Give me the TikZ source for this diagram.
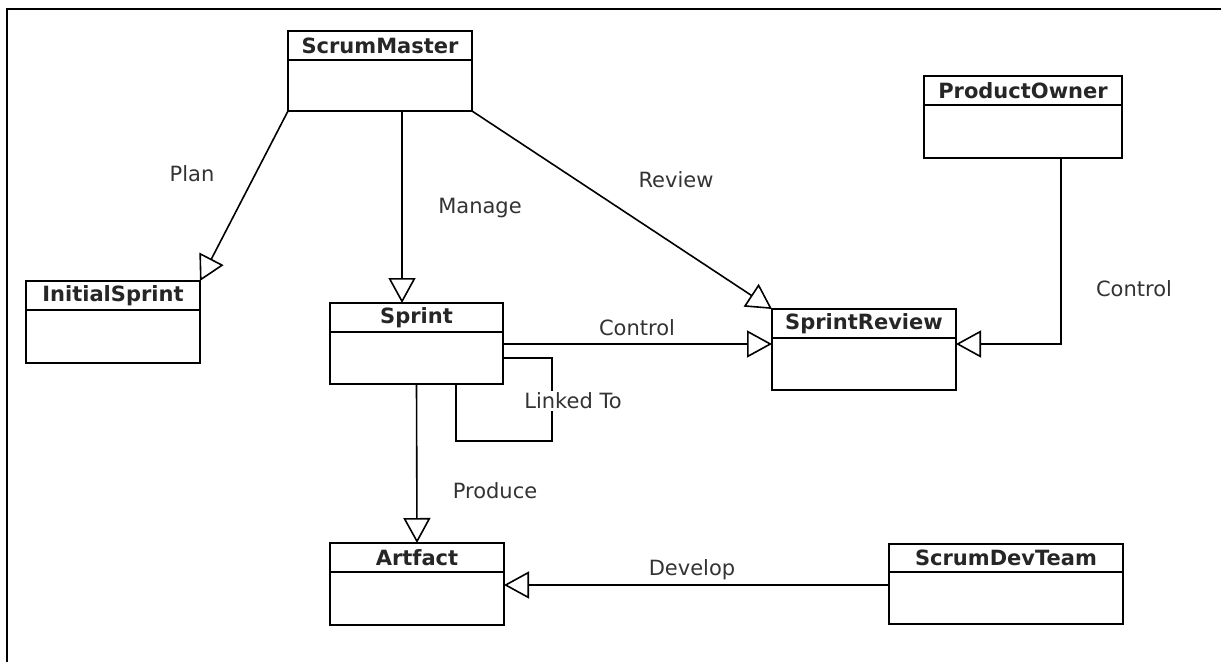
\documentclass[tikz,border=0pt]{standalone}
\usepackage{fontspec}
\setmainfont{DejaVu Sans}
\usetikzlibrary{positioning,arrows.meta}

\tikzset{
  classhead/.style={draw, line width=1.6pt, outer sep=0pt, inner sep=0pt,
    minimum height=29pt, font=\fontsize{21}{25}\selectfont\bfseries, text=black!85},
  classbody/.style={draw, line width=1.6pt, outer sep=0pt, inner sep=0pt,
    minimum height=52pt},
  inh/.style={line width=1.6pt,
    -{Triangle[open, length=25pt, width=27pt, line width=1.6pt]}},
  lbl/.style={font=\fontsize{21}{25}\selectfont, text=black!80}
}

\begin{document}
\begin{tikzpicture}[x=1pt, y=-1pt]
    \useasboundingbox (0,0) rectangle (1221,662);
    \draw[line width=2.5pt] (7,662) -- (7,9) -- (1221,9);

    % classes
    \node[classhead, minimum width=184pt] (sm) at (380,45.5) {ScrumMaster};
    \node[classbody, minimum width=184pt, minimum height=51pt, below=0pt of sm] (smb) {};
    \node[classhead, minimum width=198pt] (po) at (1023,90.5) {ProductOwner};
    \node[classbody, minimum width=198pt, minimum height=53pt, below=0pt of po] (pob) {};
    \node[classhead, minimum width=174pt] (is) at (113,295.5) {InitialSprint};
    \node[classbody, minimum width=174pt, minimum height=53pt, below=0pt of is] (isb) {};
    \node[classhead, minimum width=173pt] (sp) at (416.5,317.5) {Sprint};
    \node[classbody, minimum width=173pt, below=0pt of sp] (spb) {};
    \node[classhead, minimum width=184pt] (sr) at (864,323.5) {SprintReview};
    \node[classbody, minimum width=184pt, below=0pt of sr] (srb) {};
    \node[classhead, minimum width=174pt] (ar) at (417,557.5) {Artfact};
    \node[classbody, minimum width=174pt, minimum height=53pt, below=0pt of ar] (arb) {};
    \node[classhead, minimum width=234pt, minimum height=28pt] (sd) at (1006,558) {ScrumDevTeam};
    \node[classbody, minimum width=234pt, below=0pt of sd] (sdb) {};

    % links
    \coordinate (mg) at ([xshift=22pt]smb.south);
    \coordinate (srl) at ([yshift=-6pt]srb.north west);
    \coordinate (srr) at ([yshift=-6pt]srb.north east);
    \coordinate (arr) at ([yshift=-13pt]arb.north east);

    \draw[inh] (smb.south west) -- (is.north east);
    \draw[inh] (mg) -- (mg |- sp.north);
    \draw[inh] (smb.south east) -- (sr.north west);
    \draw[inh] (spb.east |- srl) -- (srl);
    \draw[inh] ([xshift=38pt]pob.south) |- (srr);
    \draw[line width=1.6pt] (spb.east) -| ++(49,83) -| ([xshift=39.5pt]spb.south);
    \draw[inh] (spb.south) -- (ar.north);
    \draw[inh] (sdb.west |- arr) -- (arr);

    % labels
    \node[lbl] (lplan) at (192,174) {Plan};
    \node[lbl] (lman) at (480,208) {Manage};
    \node[lbl] (lrev) at (676,180) {Review};
    \node[lbl] (lctl) at (637,328) {Control};
    \node[lbl] (lctl2) at (1134,289) {Control};
    \node[lbl, fill=white, inner sep=2pt] (llnk) at (573,401) {Linked To};
    \node[lbl] (lprod) at (495,491) {Produce};
    \node[lbl] (ldev) at (692,570) {Develop};
\end{tikzpicture}
\end{document}
